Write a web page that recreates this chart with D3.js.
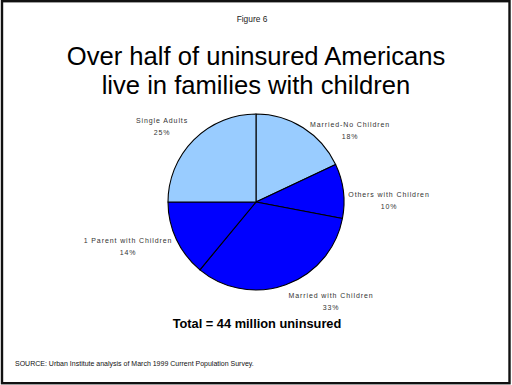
<!DOCTYPE html>
<html>
<head>
<meta charset="utf-8">
<script src="https://cdn.jsdelivr.net/npm/d3@7"></script>
<style>
  html, body { margin: 0; padding: 0; background: #fff; }
  svg { display: block; font-family: Arial, "Liberation Sans", Helvetica, sans-serif; }
</style>
</head>
<body>
<svg id="chart" width="512" height="385"></svg>
<script>
// Uninsured Americans by family type (percent of total)
const categories = ["Married-No Children", "Others with Children", "Married with Children", "1 Parent with Children", "Single Adults"];
const shares = [18, 10, 33, 14, 25];
const sliceColors = ["#99ccff", "#0000ff", "#0000ff", "#0000ff", "#99ccff"];
// label anchor positions (x, y of the category line)
const labelPos = [[350, 127], [389, 197], [331, 298], [128, 243], [162, 123]];

const svg = d3.select("#chart");
const W = 512, H = 385;

// slide frame
svg.append("rect")
  .attr("x", 2).attr("y", 1.2).attr("width", W - 4.5).attr("height", H - 3)
  .attr("fill", "none").attr("stroke", "#111").attr("stroke-width", 2.4);

svg.append("text")
  .attr("x", 252).attr("y", 22).attr("text-anchor", "middle")
  .attr("font-size", 8.4).attr("fill", "#222")
  .text("Figure 6");

const title = svg.append("text")
  .attr("text-anchor", "middle").attr("font-size", 25.6).attr("fill", "#000");
title.append("tspan").attr("x", 256).attr("y", 65).text("Over half of uninsured Americans");
title.append("tspan").attr("x", 256).attr("y", 93.5).text("live in families with children");

// pie
const cx = 256, cy = 202, r = 88;
const pie = d3.pie().sort(null).value(d => d.v);
const arc = d3.arc().innerRadius(0).outerRadius(r);
const data = categories.map((c, i) => ({ c, v: shares[i], col: sliceColors[i], pos: labelPos[i] }));

const g = svg.append("g").attr("transform", `translate(${cx},${cy})`);
g.selectAll("path")
  .data(pie(data))
  .join("path")
  .attr("d", arc)
  .attr("fill", d => d.data.col)
  .attr("stroke", "#000")
  .attr("stroke-width", 1.1)
  .attr("stroke-linejoin", "round");

// slice labels
const lab = svg.append("g")
  .attr("font-size", 7).attr("fill", "#333").attr("text-anchor", "middle")
  .attr("letter-spacing", 0.9);
data.forEach(d => {
  lab.append("text").attr("x", d.pos[0]).attr("y", d.pos[1]).text(d.c);
  lab.append("text").attr("x", d.pos[0]).attr("y", d.pos[1] + 11.5).text(d.v + "%");
});

svg.append("text")
  .attr("x", 257).attr("y", 328).attr("text-anchor", "middle")
  .attr("font-size", 12.8).attr("font-weight", "bold").attr("fill", "#000")
  .text("Total = 44 million uninsured");

svg.append("text")
  .attr("x", 15).attr("y", 366)
  .attr("font-size", 7).attr("fill", "#111")
  .text("SOURCE: Urban Institute analysis of March 1999 Current Population Survey.");
</script>
</body>
</html>
